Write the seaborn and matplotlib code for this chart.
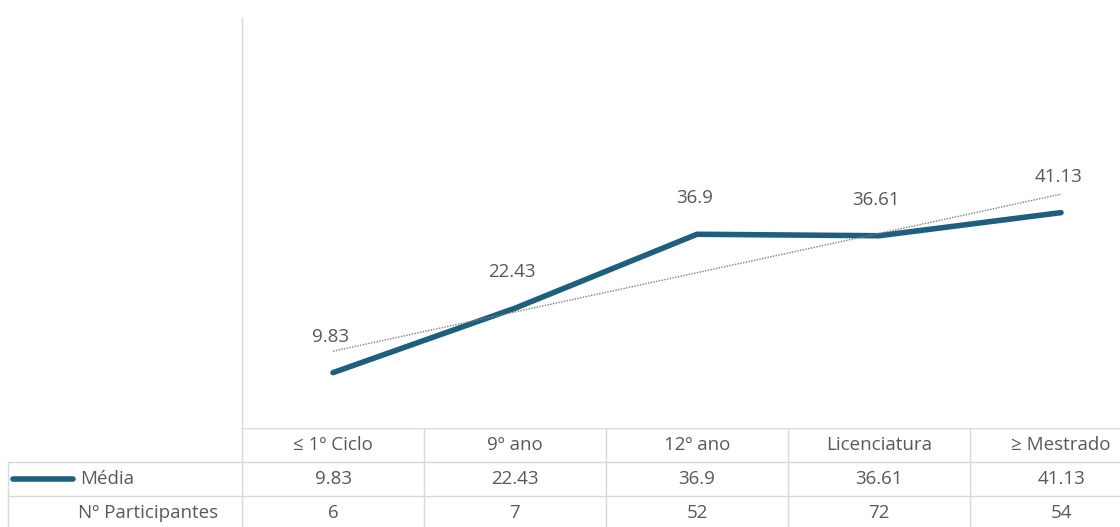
import matplotlib
matplotlib.use("Agg")
import matplotlib.pyplot as plt
import seaborn as sns
import numpy as np
import pandas as pd

# data
categorias = ["≤ 1º Ciclo", "9º ano", "12º ano", "Licenciatura", "≥ Mestrado"]
media = [9.83, 22.43, 36.9, 36.61, 41.13]
participantes = [6, 7, 52, 72, 54]
linhas_tabela = ["Média", "Nº Participantes"]

sns.set_theme(style="white")
plt.rcParams['font.family'] = ['Open Sans', 'DejaVu Sans']

W, H = 1120, 527
fig = plt.figure(figsize=(W / 100, H / 100), dpi=100)

line_color = "#1f5f7e"
grid_color = "#d9d9d9"
text_color = "#595959"
fs = 13.5

# category width in px, plot area starts at x=242
col_w = 182
x0_px = 242
plot_top, plot_bot = 18, 428

def fx(px):
    return px / W

def fy(py):
    return 1 - py / H

right_px = x0_px + col_w * len(categorias)
ax = fig.add_axes([fx(x0_px), fy(plot_bot), fx(right_px - x0_px), (plot_bot - plot_top) / H])

df = pd.DataFrame({"pos": np.arange(len(categorias)), "media": media})
sns.lineplot(data=df, x="pos", y="media", ax=ax, color=line_color, linewidth=4,
             solid_capstyle="round")
sns.regplot(data=df, x="pos", y="media", ax=ax, scatter=False, ci=None,
            line_kws=dict(color="#7f7f7f", linewidth=1.0, linestyle=(0, (1, 1))))

for i, v in enumerate(media):
    ax.annotate(f"{v:g}", (i, v), xytext=(-2, 26), textcoords="offset points",
                ha="center", va="center", fontsize=fs, color=text_color)

ax.set_xlim(-0.5, len(categorias) - 0.5)
ax.set_ylim(-1, 79.2)
ax.set_xticks([])
ax.set_yticks([])
ax.set_xlabel("")
ax.set_ylabel("")
for s in ["top", "right", "bottom"]:
    ax.spines[s].set_visible(False)
ax.spines["left"].set_color(grid_color)
ax.spines["left"].set_linewidth(1.0)

# data table below the plot area
tab = fig.add_axes([0, 0, fx(right_px), fy(plot_bot)])
tab.set_xlim(-0.5 - x0_px / col_w, len(categorias) - 0.5)
tab.set_ylim(H - plot_bot, 0)  # pixel rows, inverted
tab.axis("off")

left_px = 8
left_x = -0.5 - (x0_px - left_px) / col_w
row_h = [428, 462, 496, 530]
rel = [r - plot_bot for r in row_h]

# horizontal lines
tab.plot([-0.5, len(categorias) - 0.5], [rel[0], rel[0]], color=grid_color, lw=1)
for r in rel[1:3]:
    tab.plot([left_x, len(categorias) - 0.5], [r, r], color=grid_color, lw=1)
# vertical lines
for k in range(len(categorias) + 1):
    tab.plot([k - 0.5, k - 0.5], [rel[0], rel[3]], color=grid_color, lw=1)
tab.plot([left_x, left_x], [rel[1], rel[3]], color=grid_color, lw=1)

for i, c in enumerate(categorias):
    tab.text(i, (rel[0] + rel[1]) / 2, c, ha="center", va="center", fontsize=fs, color=text_color)
    tab.text(i, (rel[1] + rel[2]) / 2, f"{media[i]:g}", ha="center", va="center", fontsize=fs, color=text_color)
    tab.text(i, (rel[2] + rel[3]) / 2, f"{participantes[i]}", ha="center", va="center", fontsize=fs, color=text_color)

# legend key and row labels
key_y = (rel[1] + rel[2]) / 2
tab.plot([left_x + 5 / col_w, left_x + 65 / col_w], [key_y, key_y], color=line_color, lw=4,
         solid_capstyle="round")
tab.text(left_x + 72 / col_w, key_y, linhas_tabela[0], ha="left", va="center", fontsize=fs, color=text_color)
tab.text(left_x + 70 / col_w, (rel[2] + rel[3]) / 2, linhas_tabela[1], ha="left", va="center",
         fontsize=fs, color=text_color)

fig.savefig("out.png", dpi=100, facecolor="white")
